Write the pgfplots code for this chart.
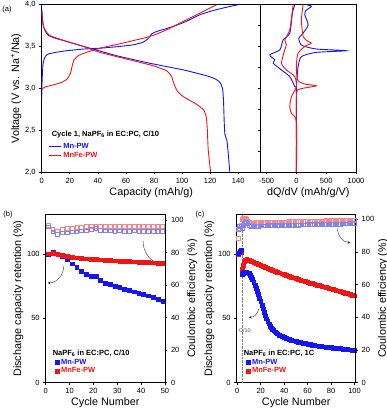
\documentclass[border=0pt]{standalone}
\usepackage{fontspec}
\setmainfont{Liberation Sans}
\usepackage{pgfplots}
\pgfplotsset{compat=1.18}
\usetikzlibrary{arrows.meta}

\definecolor{mblue}{RGB}{20,20,245}
\definecolor{mred}{RGB}{245,20,20}
\definecolor{lblue}{RGB}{130,130,245}
\definecolor{lred}{RGB}{245,135,135}

\pgfplotsset{
  panel/.style={scale only axis, anchor=south west, tick align=outside,
    major tick length=2.5pt, tick style={black, semithick},
    axis line style={semithick},
    ticklabel style={font=\fontsize{7.5}{8}\selectfont},
    label style={font=\fontsize{10.8}{12}\selectfont},
    /pgf/number format/assume math mode=true,
    xtick pos=bottom, ytick pos=left},
  leg/.style={legend style={draw=none, fill=none, font=\bfseries\fontsize{7.5}{8}\selectfont,
    row sep=-2pt, inner sep=1pt}, legend cell align=left},
}

\begin{document}
\begin{tikzpicture}
\useasboundingbox (0,0) rectangle (387pt,415pt);

% ---------- (a) voltage profiles ----------
\begin{axis}[panel, leg, at={(41.7pt,243pt)}, width=219pt, height=167.3pt,
  xmin=0, xmax=156, ymin=2, ymax=4,
  xtick={0,20,...,140}, ytick={2,2.5,...,4},
  yticklabel style={/pgf/number format/.cd, use comma, fixed, fixed zerofill, precision=1},
  xlabel={Capacity (mAh/g)}, ylabel={Voltage (V vs. Na\textsuperscript{+}/Na)},
  xlabel style={yshift=3pt}, ylabel style={yshift=-3pt},
  legend image code/.code={\draw[#1] (0pt,0pt) -- (12pt,0pt);},
  legend style={at={(axis description cs:0.025,0.19)}, anchor=north west}]
\addplot[mblue, line width=0.9pt, smooth, tension=0.3] coordinates {
 (0,2.86)(0.3,3.1)(1,3.3)(2.5,3.38)(4.7,3.41)(10,3.43)(17.8,3.45)(30,3.47)(41.5,3.48)
 (55,3.50)(65,3.52)(72,3.55)(75.5,3.59)(78.3,3.65)(81.9,3.68)(88,3.71)(93.7,3.74)
 (103,3.80)(112.7,3.88)(122,3.93)(131.7,3.97)(140,4.0)};
\addlegendentry{\textcolor{mblue}{Mn-PW}}
\addplot[mred, line width=0.9pt, smooth, tension=0.3] coordinates {
 (0,2.99)(3,3.02)(8,3.04)(14,3.07)(18,3.11)(20.5,3.18)(21.6,3.26)(23,3.34)(26,3.39)
 (30,3.42)(41.5,3.48)(55,3.53)(65,3.57)(75,3.61)(82,3.65)(89,3.70)(98.5,3.78)
 (108,3.86)(117.5,3.94)(124.6,4.0)};
\addlegendentry{\textcolor{mred}{MnFe-PW}}
\addplot[mblue, line width=0.9pt, smooth, tension=0.3] coordinates {
 (0,3.95)(0.5,3.85)(1.2,3.74)(3,3.67)(5,3.63)(9.5,3.60)(17.8,3.56)(34.4,3.48)(53.4,3.39)
 (77,3.30)(101,3.22)(117.5,3.15)(124,3.11)(127,3.07)(128.8,3.0)(129.5,2.86)(130,2.6)
 (130.5,2.45)(132,2.37)(133,2.2)(134,2.0)};
\addplot[mred, line width=0.9pt, smooth, tension=0.3] coordinates {
 (0,3.92)(0.5,3.84)(1.2,3.74)(4,3.66)(6,3.63)(10.7,3.60)(29.7,3.50)(41.5,3.43)(65.3,3.33)
 (79.5,3.27)(89,3.21)(92.5,3.14)(94.5,3.04)(96.5,2.97)(100.9,2.90)(110.3,2.81)(115.5,2.74)
 (117.3,2.65)(118,2.5)(118.6,2.27)(120.3,2.0)};
\node[anchor=west, font=\bfseries\fontsize{7.5}{8}\selectfont] at (axis description cs:0.03,0.225)
  {Cycle 1, NaPF\textsubscript{6} in EC:PC, C/10};
\end{axis}

% ---------- (a) dQ/dV ----------
\begin{axis}[panel, at={(260.7pt,243pt)}, width=95.3pt, height=167.3pt,
  xmin=-600, xmax=1000, ymin=2, ymax=4,
  xtick={-500,0,500,1000}, xticklabels={-500,0,500,1000},
  ytick={2,2.25,...,4}, yticklabels={},
  xlabel={dQ/dV (mAh/g/V)}, xlabel style={yshift=3pt}]
\addplot[mblue, line width=0.9pt, smooth, tension=0.4] coordinates {
 (0,2.0)(0,2.3)(4,2.35)(0,2.4)(0,3.0)(10,3.12)(28,3.26)(84,3.38)(335,3.43)(838,3.45)
 (335,3.47)(100,3.51)(56,3.55)(40,3.6)(112,3.66)(196,3.76)(140,3.88)(160,3.93)(251,3.98)(168,4.0)};
\addplot[mblue, line width=0.9pt, smooth, tension=0.4] coordinates {
 (0,2.0)(0,2.95)(-28,3.02)(-112,3.14)(-251,3.22)(-391,3.30)(-363,3.34)(-447,3.40)
 (-279,3.46)(-223,3.58)(-112,3.66)(-67,3.9)(-28,4.0)};
\addplot[mred, line width=0.9pt, smooth, tension=0.4] coordinates {
 (0,2.0)(0,2.9)(56,2.99)(335,3.03)(150,3.05)(28,3.09)(0,3.2)(0,3.3)(28,3.42)(140,3.5)
 (251,3.54)(196,3.56)(112,3.62)(84,3.82)(112,4.0)};
\addplot[mred, line width=0.9pt, smooth, tension=0.4] coordinates {
 (0,2.0)(0,2.6)(-84,2.70)(-112,2.78)(-84,2.90)(0,3.02)(-28,3.14)(-168,3.22)(-251,3.30)
 (-196,3.46)(-168,3.52)(-196,3.58)(-112,3.70)(-56,4.0)};
\end{axis}

% ---------- (b) ----------
\begin{axis}[panel, leg, at={(45.7pt,32.5pt)}, width=119.3pt, height=167.8pt,
  xmin=0, xmax=50, ymin=0, ymax=130.6, xtick={0,10,...,50}, ytick={0,50,100},
  xlabel={Cycle Number}, ylabel={Discharge capacity retention (\%)},
  xlabel style={yshift=3pt}, ylabel style={yshift=-3pt},
  legend style={at={(axis description cs:0.07,0.16)}, anchor=north west}]
\addplot[only marks, mark=square*, mark size=1.9pt, mblue] coordinates {
 (1,100)(3,101.5)(5,99.5)(7,98)(9,95.5)(11,92.5)(13,89.5)(15,86.5)(17,84)(19,83)(21,83)
 (23,79.5)(25,77.5)(27,76.5)(29,75.2)(31,74)(33,72.7)(35,71.6)(37,70.6)(39,69.6)(41,68.5)
 (43,67.5)(45,66.4)(47,65)(49,63.3)};
\addlegendentry{\textcolor{mblue}{Mn-PW}}
\addplot[only marks, mark=square*, mark size=1.9pt, mred] coordinates {
 (1,100.3)(3,100.8)(5,100)(7,99)(9,98.2)(11,97.6)(13,97.2)(15,96.8)(17,96.4)(19,96.1)
 (21,95.8)(23,95.5)(25,95.3)(27,95.0)(29,94.8)(31,94.6)(33,94.4)(35,94.2)(37,94.0)
 (39,93.8)(41,93.6)(43,93.4)(45,93.2)(47,93.0)(49,92.8)};
\addlegendentry{\textcolor{mred}{MnFe-PW}}
\node[anchor=west, font=\bfseries\fontsize{7.5}{8}\selectfont] at (axis description cs:0.03,0.175)
  {NaPF\textsubscript{6} in EC:PC, C/10};
\draw[-{Stealth[length=3pt,width=2.5pt]}, black!80] (axis cs:7.6,91) to[out=-90, in=0] (axis cs:0.8,77.5);
\draw[-{Stealth[length=3pt,width=2.5pt]}, black!80] (axis cs:40.8,110) to[out=-90, in=180] (axis cs:49.4,92.5);
\end{axis}
\begin{axis}[panel, at={(45.7pt,32.5pt)}, width=119.3pt, height=167.8pt,
  xmin=0, xmax=50, ymin=0, ymax=103.3, axis x line=none, axis y line*=right, ytick pos=right,
  ytick={0,20,...,100}, ylabel={Coulombic efficiency (\%)}, ylabel style={yshift=3pt}]
\addplot[only marks, mark=square, mark size=1.9pt, lred, semithick] coordinates {
 (1,96.9)(3,94.3)(5,93.4)(7,94.3)(9,94.9)(11,94.9)(13,95.5)(15,95.5)(17,96.1)(19,96.1)
 (21,96.2)(23,96.1)(25,96.2)(27,96.2)(29,96.3)(31,96.2)(33,96.3)(35,96.2)(37,96.3)
 (39,96.2)(41,96.3)(43,96.3)(45,96.2)(47,96.3)(49,96.2)};
\addplot[only marks, mark=square, mark size=1.9pt, lblue, semithick] coordinates {
 (1,95.9)(3,92.8)(5,91.4)(7,92.2)(9,92.2)(11,92.8)(13,92.8)(15,93.4)(17,93.4)(19,94.3)
 (21,94.9)(23,93.8)(25,93.4)(27,93.4)(29,93.3)(31,93.4)(33,93.2)(35,93.3)(37,93.4)
 (39,93.2)(41,93.3)(43,93.3)(45,93.2)(47,93.3)(49,93.2)};
\end{axis}

% ---------- (c) ----------
\begin{axis}[panel, leg, at={(236.7pt,32.5pt)}, width=119pt, height=167.8pt,
  xmin=-0.5, xmax=101, ymin=0, ymax=130.6, xtick={0,20,...,100}, ytick={0,50,100},
  xlabel={Cycle Number}, ylabel={Discharge capacity retention (\%)},
  xlabel style={yshift=3pt}, ylabel style={yshift=-3pt},
  legend style={at={(axis description cs:0.07,0.16)}, anchor=north west}]
\draw[densely dotted, black!50] (axis cs:4.2,0) -- (axis cs:4.2,130.6);
\node[font=\fontsize{5.5}{6}\selectfont, black!70] at (axis cs:6.5,40.5) {C/10};
\addplot[only marks, mark=square*, mark size=1.9pt, mred, forget plot] coordinates {
 (1,100)(2,101)(3,101.5)
 (4,88)(5,91)(6,94)(7,95.5)(8,96)(10,95.3)(12,94.2)(14,93.4)(16,92.6)(18,91.8)(20,91)
 (22,90.3)(24,89.6)(26,88.9)(28,88.2)(30,87.5)(32,86.8)(34,86.1)(36,85.4)(38,84.7)(40,84)
 (42,83.4)(44,82.8)(46,82.2)(48,81.6)(50,81)(52,80.4)(54,79.8)(56,79.2)(58,78.6)(60,78)
 (62,77.5)(64,77)(66,76.5)(68,76)(70,75.5)(72,75)(74,74.5)(76,74)(78,73.5)(80,73)
 (82,72.5)(84,71.9)(86,71.4)(88,70.8)(90,70.3)(92,69.7)(94,69.2)(96,68.6)(98,68.1)(100,67.5)};
\addplot[only marks, mark=square*, mark size=1.9pt, mblue] coordinates {
 (1,100.5)(2,102)(3,103.2)
 (4,84)(5,85)(6,86)(7,86.3)(8,86)(9,85.5)(10,84.8)(11,83.6)(12,82)(13,80.2)(14,78)(15,75.8)
 (16,73.5)(17,71)(18,68.5)(19,65.8)(20,63)(21,60.2)(22,57.5)(23,54.7)(24,52)(25,49.7)
 (26,47.5)(27,45.7)(28,44)(29,42.7)(30,41.5)(31,40.5)(32,39.5)(33,38.7)(34,38)(36,37)
 (38,36)(40,35.2)(42,34.5)(44,33.8)
 (46,33.2)(48,32.6)(50,32)(52,31.5)(54,31.1)(56,30.7)(58,30.3)(60,30)(62,29.6)(64,29.3)
 (66,29)(68,28.7)(70,28.4)(72,28.1)(74,27.9)(76,27.6)(78,27.4)(80,27.2)(82,27)(84,26.8)
 (86,26.6)(88,26.4)(90,26.2)(92,26)(94,25.8)(96,25.6)(98,25.4)(100,25.2)};
\addlegendentry{\textcolor{mblue}{Mn-PW}}
\addlegendimage{only marks, mark=square*, mark size=1.9pt, mred}
\addlegendentry{\textcolor{mred}{MnFe-PW}}
\node[anchor=west, font=\bfseries\fontsize{7.5}{8}\selectfont] at (axis description cs:0.03,0.175)
  {NaPF\textsubscript{6} in EC:PC, 1C};
\draw[-{Stealth[length=3pt,width=2.5pt]}, black!80] (axis cs:18.2,57) to[out=-100, in=0] (axis cs:9.7,50.7);
\draw[-{Stealth[length=3pt,width=2.5pt]}, black!80] (axis cs:85.4,120) to[out=-90, in=180] (axis cs:96.6,109);
\end{axis}
\begin{axis}[panel, at={(236.7pt,32.5pt)}, width=119pt, height=167.8pt,
  xmin=-0.5, xmax=101, ymin=0, ymax=102.8, axis x line=none, axis y line*=right, ytick pos=right,
  ytick={0,20,...,100}, ylabel={Coulombic efficiency (\%)}, ylabel style={yshift=3pt}]
\addplot[only marks, mark=square, mark size=1.9pt, lred, semithick] coordinates {
 (1,88.5)(2,94.5)(3,96.5)(4,100)(5,100.7)(6,100.8)(7,100.5)(8,100)(9,99)(10,98.3)
 (12,97.8)(14,97.8)(16,97.9)(18,97.9)(20,98)(22,98)(24,98.1)(26,98.1)(28,98.2)(30,98.2)
 (32,98.3)(34,98.3)(36,98.4)(38,98.4)(40,98.5)(42,98.5)(44,98.6)(46,98.6)(48,98.7)(50,98.7)
 (52,98.8)(54,98.8)(56,98.8)(58,98.9)(60,98.9)(62,98.9)(64,99)(66,99)(68,99)(70,99.1)
 (72,99.1)(74,99.1)(76,99.2)(78,99.2)(80,99.2)(82,99.3)(84,99.3)(86,99.3)(88,99.4)(90,99.4)
 (92,99.4)(94,99.5)(96,99.5)(98,99.5)(100,99.5)};
\addplot[only marks, mark=square, mark size=1.9pt, lblue, semithick] coordinates {
 (1,94)(2,95.5)(3,95.5)(4,94.5)(5,96)(6,97.5)(7,98.5)(8,98.3)(9,97.2)(10,96.3)
 (12,95.8)(14,95.8)(16,95.9)(18,95.9)(20,96)(22,96)(24,96)(26,96.1)(28,96.1)(30,96.2)
 (32,96.2)(34,96.2)(36,96.3)(38,96.3)(40,96.3)(42,96.4)(44,96.4)(46,96.4)(48,96.5)(50,96.5)
 (52,96.5)(54,96.6)(56,96.6)(58,96.6)(60,96.7)(62,96.7)(64,96.7)(66,96.8)(68,96.8)(70,96.8)
 (72,96.9)(74,96.9)(76,96.9)(78,97)(80,97)(82,97)(84,97.1)(86,97.1)(88,97.1)(90,97.2)
 (92,97.2)(94,97.2)(96,97.3)(98,97.3)(100,97.3)};
\end{axis}

\node[font=\fontsize{7.5}{8}\selectfont] at (7pt,405pt) {(a)};
\node[font=\fontsize{7.5}{8}\selectfont] at (8pt,200pt) {(b)};
\node[font=\fontsize{7.5}{8}\selectfont] at (200pt,200pt) {(c)};
\end{tikzpicture}
\end{document}
